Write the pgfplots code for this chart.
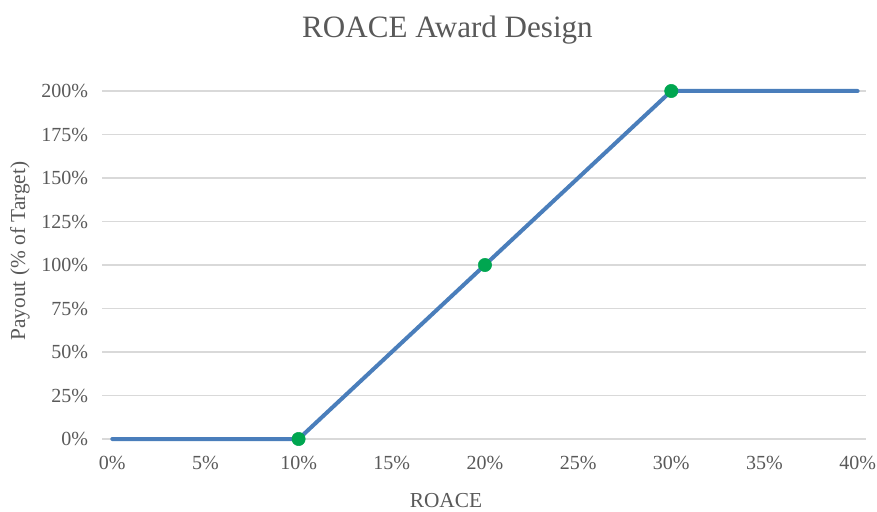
\documentclass[border=0pt]{standalone}
\usepackage{fontspec}
\setmainfont{Liberation Serif}
\usepackage{pgfplots}
\pgfplotsset{compat=1.18}
\definecolor{txt}{HTML}{595959}
\definecolor{gridc}{HTML}{D9D9D9}
\definecolor{linec}{HTML}{4A7EBB}
\definecolor{mk}{HTML}{00A650}
\begin{document}
\begin{tikzpicture}[x=0.75pt,y=0.75pt]
\useasboundingbox (0,0) rectangle (877,511);
\begin{axis}[
  at={(102*0.75pt,72*0.75pt)}, anchor=south west,
  scale only axis,
  width=573pt, height=261pt,
  xmin=-0.55, xmax=40.45, ymin=0, ymax=200,
  axis line style={draw=none},
  clip=false,
  xtick={0,5,...,40}, ytick={0,25,...,200},
  xticklabels={0\%,5\%,10\%,15\%,20\%,25\%,30\%,35\%,40\%},
  yticklabels={0\%,25\%,50\%,75\%,100\%,125\%,150\%,175\%,200\%},
  /pgf/number format/assume math mode=true,
  xmajorgrids=false, ymajorgrids=true,
  major grid style={draw=gridc, line width=0.8pt},
  major tick style={draw=none},
  major tick length=0pt,
  ticklabel style={text=txt, font=\fontsize{15}{18}\selectfont},
  xticklabel style={yshift=-9pt},
  yticklabel style={xshift=-7pt},
]
\addplot[draw=linec, line width=3pt, line join=round, line cap=round] coordinates {(0,0) (10,0) (20,100) (30,200) (40,200)};
\addplot[only marks, mark=*, mark size=5pt, mark options={fill=mk, draw=mk}] coordinates {(10,0) (20,100) (30,200)};
\end{axis}
\node[text=txt, font=\fontsize{23.3}{27}\selectfont] at (447.5,481) {ROACE Award Design};
\node[text=txt, font=\fontsize{16}{19}\selectfont, inner sep=0pt, anchor=base] at (446,4) {ROACE};
\node[text=txt, font=\fontsize{16}{19}\selectfont, rotate=90] at (20,260) {Payout (\% of Target)};
\end{tikzpicture}
\end{document}
